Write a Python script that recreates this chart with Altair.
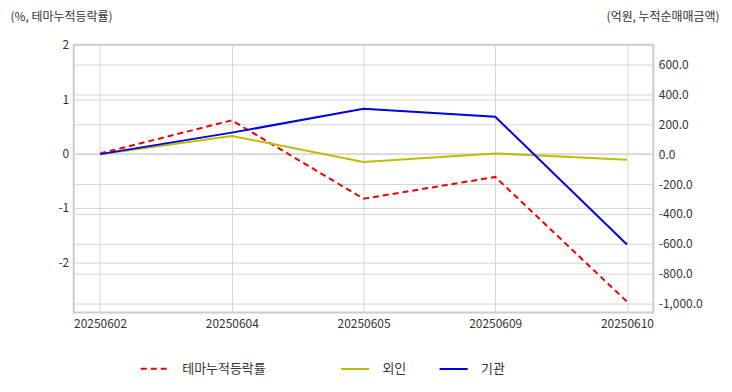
import altair as alt
import pandas as pd

dates = ["20250602", "20250604", "20250605", "20250609", "20250610"]
theme_rate = [0.0, 0.61, -0.83, -0.43, -2.72]
foreign = [0.0, 122.0, -53.0, 5.0, -38.0]
institution = [0.0, 144.0, 303.0, 250.0, -605.0]

FONT = "Noto Sans CJK KR"

df_left = pd.DataFrame({"date": dates, "value": theme_rate, "series": ["테마누적등락률"] * len(dates)})
df_right = pd.DataFrame({
    "date": dates * 2,
    "value": foreign + institution,
    "series": ["외인"] * len(dates) + ["기관"] * len(dates),
})

x_enc = alt.X("date:N", sort=dates, title=None,
              scale=alt.Scale(type="point", padding=0.2),
              axis=alt.Axis(labelAngle=0, grid=True, gridColor="#d6d6d6", ticks=False,
                            domain=False, labelPadding=6, labelFontSize=12,
                            labelColor="#333333", labelFont=FONT))

left = alt.Chart(df_left).mark_line(strokeWidth=2, strokeDash=[6, 4]).encode(
    x=x_enc,
    y=alt.Y("value:Q", scale=alt.Scale(domain=[-2.92, 2], nice=False, zero=False),
            axis=alt.Axis(values=[-2, -1, 0, 1, 2],
                          labelExpr="replace(format(datum.value, 'd'), '\u2212', '-')",
                          grid=True, gridColor="#d6d6d6",
                          ticks=False, domain=False, labelPadding=5, labelFontSize=12,
                          labelColor="#333333", labelFont=FONT,
                          title="(%, 테마누적등락률)", titleAngle=0, titleX=-64, titleY=-28,
                          titleAlign="left", titleBaseline="middle", titleFontSize=12,
                          titleFontWeight="normal", titleColor="#333333", titleFont=FONT)),
    color=alt.Color("series:N", scale=alt.Scale(domain=["테마누적등락률"], range=["#ee0000"]),
                    legend=alt.Legend(title=None, orient="none", legendX=66, legendY=310,
                                      symbolType="stroke", symbolSize=800, symbolStrokeWidth=2,
                                      symbolDash=[6, 4], labelFontSize=13, labelFont=FONT,
                                      labelColor="#333333", labelOffset=12, direction="horizontal")),
)

right = alt.Chart(df_right).mark_line(strokeWidth=2).encode(
    x=alt.X("date:N", sort=dates),
    y=alt.Y("value:Q", scale=alt.Scale(domain=[-1060, 733], nice=False, zero=False),
            axis=alt.Axis(orient="right", values=[-1000, -800, -600, -400, -200, 0, 200, 400, 600],
                          labelExpr="replace(format(datum.value, ',.1f'), '\u2212', '-')",
                          grid=True, gridColor="#d6d6d6",
                          ticks=False, domain=False, labelPadding=5, labelFontSize=12,
                          labelColor="#333333", labelFont=FONT,
                          title="(억원, 누적순매매금액)", titleAngle=0, titleX=66, titleY=-28,
                          titleAlign="right", titleBaseline="middle", titleFontSize=12,
                          titleFontWeight="normal", titleColor="#333333", titleFont=FONT)),
    color=alt.Color("series:N", sort=["외인", "기관"],
                    scale=alt.Scale(domain=["외인", "기관"], range=["#bdbd00", "#0000e0"]),
                    legend=alt.Legend(title=None, orient="none", legendX=267, legendY=310,
                                      symbolType="stroke", symbolSize=800, symbolStrokeWidth=2,
                                      labelFontSize=13, labelFont=FONT, labelColor="#333333",
                                      labelOffset=12, columnPadding=29, direction="horizontal")),
)

chart = alt.layer(left, right).resolve_scale(y="independent", color="independent").properties(
    width=582, height=269,
    padding={"left": 2, "top": 2, "right": 5, "bottom": 5},
).configure_view(stroke="#cccccc", strokeWidth=2)

chart.save("out.html", embed_options={"renderer": "svg", "actions": False})
